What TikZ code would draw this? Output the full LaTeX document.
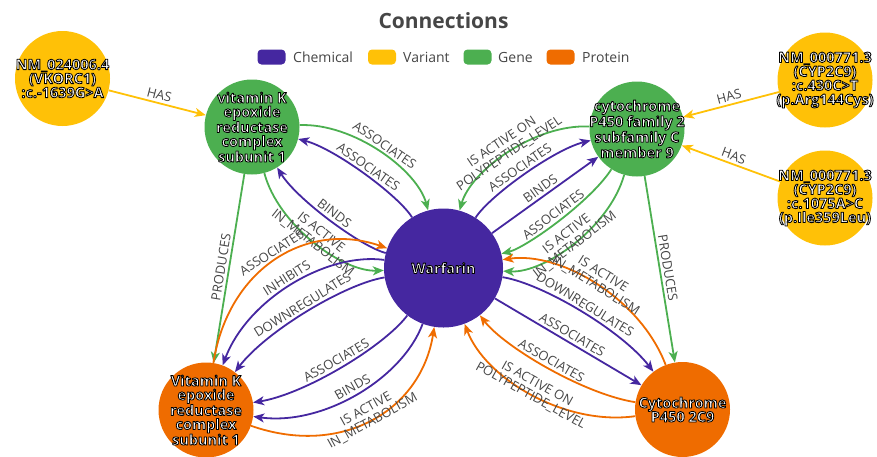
\documentclass[tikz,border=0pt]{standalone}
\usepackage{fontspec}
\setmainfont{Open Sans}
\usetikzlibrary{arrows.meta,calc}
\definecolor{chem}{HTML}{4527A0}
\definecolor{vari}{HTML}{FFC107}
\definecolor{gene}{HTML}{4CAF50}
\definecolor{prot}{HTML}{EF6C00}
\definecolor{ink}{HTML}{464646}
% white entity captions with a thin black outline (fill, then stroke)
\newcommand\dk[1]{\special{pdf:code 2 Tr 0.85 w 1 j 0 0 0 RG}#1\special{pdf:code 0 Tr}}
% curved link from #2 to #3 whose control point lies off the line warfarin--#4
% (quadratic curve written as a cubic one)
\newcommand\qlink[6]{%
  \coordinate (qc) at ($(w)!0.5!(#4)!#5!90:(#4)$);
  \draw[#1] (#2) .. controls ($(#2)!2/3!(qc)$) and ($(#3)!2/3!(qc)$) .. (#3) #6;}
\begin{document}
\begin{tikzpicture}[x=1pt,y=-1pt,
  entity/.style={circle, minimum size=95pt, inner sep=0pt, draw=none},
  hub/.style={entity, minimum size=119pt},
  caption/.style={text=white, align=center, inner sep=0pt, font=\bfseries\fontsize{14.5}{14}\selectfont},
  link/.style={line width=1.8pt, -{Stealth[length=11pt,width=9pt,inset=3pt]}},
  lbl/.style={pos=0.5, sloped, text=ink, align=center, inner sep=0.5pt, font=\fontsize{13}{13.5}\selectfont},
  one/.style={lbl, anchor=south, yshift=2pt},
  two/.style={lbl, anchor=center, yshift=5pt},
  key/.style={rounded corners=4pt, minimum width=28pt, minimum height=15pt, inner sep=0pt},
  keytext/.style={anchor=west, text=ink, inner sep=0pt, font=\fontsize{14}{14}\selectfont}]
\useasboundingbox (0,0) rectangle (877,456);

% title and legend
\node[text=ink, font=\bfseries\fontsize{21}{21}\selectfont] (title) at (443.5,21) {Connections};
\node[key, fill=chem] (k1) at (271.5,57) {};
\node[keytext] (t1) at (293,57) {Chemical};
\node[key, fill=vari] (k2) at (382,57) {};
\node[keytext] (t2) at (403,57) {Variant};
\node[key, fill=gene] (k3) at (477.5,57) {};
\node[keytext] (t3) at (498,57) {Gene};
\node[key, fill=prot] (k4) at (560.5,57) {};
\node[keytext] (t4) at (582,57) {Protein};

% entities
\node[hub, fill=chem] (w) at (443.5,268) {};
\node[entity, fill=vari] (v1) at (62.5,78.5) {};
\node[entity, fill=vari] (v2) at (825,80) {};
\node[entity, fill=vari] (v3) at (825,198) {};
\node[entity, fill=gene] (g1) at (252,127) {};
\node[entity, fill=gene] (g2) at (637,129) {};
\node[entity, fill=prot] (p1) at (206,410) {};
\node[entity, fill=prot] (p2) at (682.5,409.5) {};

% variants and genes
\draw[link, vari] (v1) -- (g1) node[one]{HAS};
\draw[link, vari] (v2) -- (g2) node[one]{HAS};
\draw[link, vari] (v3) -- (g2) node[one]{HAS};
\draw[link, gene] (g1) -- (p1) node[one]{PRODUCES};
\draw[link, gene] (g2) -- (p2) node[one]{PRODUCES};

% warfarin -- VKORC1 gene
\qlink{link, gene}{g1}{w}{g1}{-0.8}{node[one]{ASSOCIATES}}
\qlink{link, chem}{w}{g1}{g1}{-0.4}{node[one]{ASSOCIATES}}
\qlink{link, chem}{w}{g1}{g1}{0.4}{node[one]{BINDS}}
\qlink{link, gene}{g1}{w}{g1}{0.8}{node[two]{IS ACTIVE\\IN\_METABOLISM}}

% warfarin -- VKORC1 protein
\qlink{link, prot}{p1}{w}{p1}{-1.2}{node[one]{ASSOCIATES}}
\qlink{link, chem}{w}{p1}{p1}{-0.8}{node[one]{INHIBITS}}
\qlink{link, chem}{w}{p1}{p1}{-0.4}{node[one]{DOWNREGULATES}}
\qlink{link, chem}{w}{p1}{p1}{0.4}{node[one]{ASSOCIATES}}
\qlink{link, chem}{w}{p1}{p1}{0.8}{node[one]{BINDS}}
\qlink{link, prot}{p1}{w}{p1}{1.2}{node[two]{IS ACTIVE\\IN\_METABOLISM}}

% warfarin -- CYP2C9 gene
\qlink{link, gene}{g2}{w}{g2}{0.8}{node[two]{IS ACTIVE ON\\POLYPEPTIDE\_LEVEL}}
\qlink{link, chem}{w}{g2}{g2}{0.4}{node[one]{ASSOCIATES}}
\draw[link, chem] (w) -- (g2) node[one]{BINDS};
\qlink{link, gene}{g2}{w}{g2}{-0.4}{node[one]{ASSOCIATES}}
\qlink{link, gene}{g2}{w}{g2}{-0.8}{node[two]{IS ACTIVE\\IN\_METABOLISM}}

% warfarin -- CYP2C9 protein
\qlink{link, prot}{p2}{w}{p2}{0.8}{node[two]{IS ACTIVE\\IN\_METABOLISM}}
\qlink{link, chem}{w}{p2}{p2}{0.4}{node[one]{DOWNREGULATES}}
\draw[link, chem] (w) -- (p2) node[one]{ASSOCIATES};
\qlink{link, prot}{p2}{w}{p2}{-0.4}{node[one]{ASSOCIATES}}
\qlink{link, prot}{p2}{w}{p2}{-0.8}{node[two]{IS ACTIVE ON\\POLYPEPTIDE\_LEVEL}}

% entity captions, above the links
\node[caption] (wt) at (w) {\dk{Warfarin}};
\node[caption] (v1t) at (v1) {\dk{NM\_024006.4}\\\dk{(VKORC1)}\\\dk{:c.-1639G>A}};
\node[caption] (v2t) at (v2) {\dk{NM\_000771.3}\\\dk{(CYP2C9)}\\\dk{:c.430C>T}\\\dk{(p.Arg144Cys)}};
\node[caption] (v3t) at (v3) {\dk{NM\_000771.3}\\\dk{(CYP2C9)}\\\dk{:c.1075A>C}\\\dk{(p.Ile359Leu)}};
\node[caption] (g1t) at (g1) {\dk{vitamin K}\\\dk{epoxide}\\\dk{reductase}\\\dk{complex}\\\dk{subunit 1}};
\node[caption] (g2t) at (g2) {\dk{cytochrome}\\\dk{P450 family 2}\\\dk{subfamily C}\\\dk{member 9}};
\node[caption] (p1t) at (p1) {\dk{Vitamin K}\\\dk{epoxide}\\\dk{reductase}\\\dk{complex}\\\dk{subunit 1}};
\node[caption] (p2t) at (p2) {\dk{Cytochrome}\\\dk{P450 2C9}};
\end{tikzpicture}
\end{document}
